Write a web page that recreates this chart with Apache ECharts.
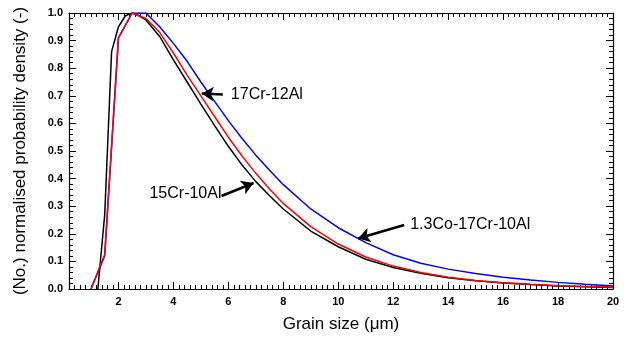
<!DOCTYPE html>
<html><head><meta charset="utf-8">
<script src="https://cdn.jsdelivr.net/npm/echarts@6/dist/echarts.min.js"></script>
<style>html,body{margin:0;padding:0;background:#fff}#c{width:625px;height:338px}</style>
</head><body><div id="c"></div>
<script>
// 15Cr-10Al (black)
const xBlack = [1.25,1.5,1.75,2.0,2.25,2.5,2.75,3,3.5,4,4.5,5,5.5,6,6.5,7,7.5,8,9,10,11,12,13,14,15,16,17,18,19,20];
const yBlack = [0,0.27,0.86,0.95,0.99,1.0,0.99,0.975,0.915,0.83,0.75,0.67,0.592,0.517,0.449,0.389,0.338,0.29,0.21,0.153,0.108,0.078,0.057,0.041,0.03,0.022,0.016,0.011,0.008,0.005];
// 17Cr-12Al (red)
const xRed = [1.0,1.5,2.0,2.5,3,3.5,4,4.5,5,5.5,6,6.5,7,7.5,8,9,10,11,12,13,14,15,16,17,18,19,20];
const yRed = [0,0.125,0.91,1.0,0.98,0.93,0.855,0.775,0.7,0.625,0.55,0.482,0.419,0.362,0.31,0.226,0.163,0.116,0.083,0.06,0.043,0.031,0.023,0.017,0.012,0.009,0.006];
// 1.3Co-17Cr-10Al (blue)
const xBlue = [1.0,1.5,2.0,2.5,3,3.5,4,4.5,5,5.5,6,6.5,7,7.5,8,9,10,11,12,13,14,15,16,17,18,19,20];
const yBlue = [0,0.12,0.91,1.0,1.0,0.95,0.89,0.825,0.75,0.68,0.61,0.545,0.485,0.43,0.378,0.29,0.222,0.168,0.124,0.093,0.072,0.056,0.043,0.033,0.024,0.017,0.011];
const seriesNames = ['1.3Co-17Cr-10Al','15Cr-10Al','17Cr-12Al'];
// annotations: label, arrow tail, arrow tip (data coords)
const annLabels = ['17Cr-12Al','15Cr-10Al','1.3Co-17Cr-10Al'];
const annTail = [[5.8,0.705],[5.75,0.337],[12.4,0.232]];
const annTip = [[5.03,0.708],[6.92,0.384],[10.72,0.183]];

const pairs = (xs, ys) => xs.map((x, i) => [x, ys[i]]);
const chart = echarts.init(document.getElementById('c'), null, {renderer: 'canvas'});
const font = 'Liberation Sans, Arial, sans-serif';
const axisCommon = {
  axisLine: {show: true, onZero: false, lineStyle: {color: '#000', width: 1.2}},
  axisTick: {show: true, inside: true, length: 7, lineStyle: {color: '#000', width: 1}},
  minorTick: {show: true, length: 4, lineStyle: {color: '#000', width: 1}},
  splitLine: {show: false}, minorSplitLine: {show: false}
};
const xBase = Object.assign({type: 'value', min: 0.2, max: 20, splitNumber: 10}, axisCommon);
xBase.minorTick = Object.assign({}, axisCommon.minorTick, {splitNumber: 10});
const yBase = Object.assign({type: 'value', min: 0, max: 1, interval: 0.1}, axisCommon);
yBase.minorTick = Object.assign({}, axisCommon.minorTick, {splitNumber: 5});

const arrowData = annTail.map((t, i) => [{coord: t}, {coord: annTip[i]}]);

chart.setOption({
  animation: false,
  backgroundColor: '#fff',
  grid: {left: 69, right: 12, top: 13, bottom: 48, containLabel: false},
  xAxis: [
    Object.assign({}, xBase, {position: 'bottom', name: 'Grain size (μm)', nameLocation: 'middle', nameGap: 27,
      nameTextStyle: {fontFamily: font, fontSize: 17, color: '#000'},
      axisLabel: {show: true, showMinLabel: false, margin: 7, fontFamily: font, fontSize: 11, fontWeight: 'bold', color: '#000',
        formatter: v => (Math.abs(v % 2) < 1e-6 ? String(Math.round(v)) : '')}}),
    Object.assign({}, xBase, {position: 'top', axisLabel: {show: false}})
  ],
  yAxis: [
    Object.assign({}, yBase, {position: 'left', name: '(No.) normalised probability density (-)', nameLocation: 'middle', nameGap: 40,
      nameTextStyle: {fontFamily: font, fontSize: 17, color: '#000'},
      axisLabel: {show: true, margin: 6, fontFamily: font, fontSize: 11, fontWeight: 'bold', color: '#000', formatter: v => v.toFixed(1)}}),
    Object.assign({}, yBase, {position: 'right', axisLabel: {show: false}})
  ],
  series: [
    {name: seriesNames[0], type: 'line', data: pairs(xBlue, yBlue), showSymbol: false, symbol: 'none', smooth: false, clip: true,
      lineStyle: {color: '#0000ff', width: 1.5}},
    {name: seriesNames[1], type: 'line', data: pairs(xBlack, yBlack), showSymbol: false, symbol: 'none', smooth: false, clip: true,
      lineStyle: {color: '#000000', width: 1.5}},
    {name: seriesNames[2], type: 'line', data: pairs(xRed, yRed), showSymbol: false, symbol: 'none', smooth: false, clip: true,
      lineStyle: {color: '#ff0000', width: 1.5},
      markLine: {silent: true, symbol: ['none', 'arrow'], symbolSize: [11, 12], animation: false,
        label: {show: false}, emphasis: {disabled: true},
        lineStyle: {color: '#000', width: 2.5, type: 'solid'}, data: arrowData}}
  ]
});

const textOffsets = [[8, 0], [0, -2], [6, 0]];
const aligns = ['left', 'right', 'left'];
const graphics = annLabels.map((lab, i) => {
  const p = chart.convertToPixel({gridIndex: 0}, annTail[i]);
  return {type: 'text', x: p[0] + textOffsets[i][0], y: p[1] + textOffsets[i][1],
    style: {text: lab, fontFamily: font, fontSize: 16, fill: '#000', align: aligns[i], verticalAlign: 'middle'}};
});
chart.setOption({graphic: graphics});
</script></body></html>
